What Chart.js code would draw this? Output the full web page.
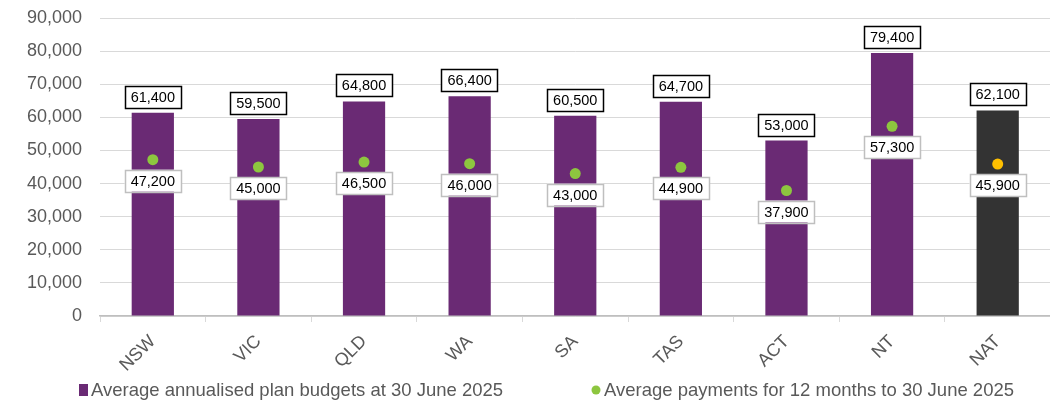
<!DOCTYPE html>
<html>
<head>
<meta charset="utf-8">
<script src="https://cdn.jsdelivr.net/npm/chart.js@4/dist/chart.umd.min.js"></script>
<style>
  html, body { margin: 0; padding: 0; background: #fff; overflow: hidden; }
  #wrap { width: 1056px; height: 400px; }
</style>
</head>
<body>
<div id="wrap"><canvas id="chart" width="1056" height="400"></canvas></div>
<script>
// data
const states = ['NSW', 'VIC', 'QLD', 'WA', 'SA', 'TAS', 'ACT', 'NT', 'NAT'];
const budgets = [61400, 59500, 64800, 66400, 60500, 64700, 53000, 79400, 62100];
const payments = [47200, 45000, 46500, 46000, 43000, 44900, 37900, 57300, 45900];
const yTicks = [0, 10000, 20000, 30000, 40000, 50000, 60000, 70000, 80000, 90000];

const budgetLabel = 'Average annualised plan budgets at 30 June 2025';
const paymentLabel = 'Average payments for 12 months to 30 June 2025';

const purple = '#6a2a74';
const dark = '#333333';
const green = '#8dc63f';
const amber = '#ffc000';
const fontFam = '"Liberation Sans", Arial, sans-serif';

const fmt = v => v.toLocaleString('en-US');

// value boxes on bars and points, plus the legend row
const labelsPlugin = {
  id: 'labels',
  afterDatasetsDraw(chart) {
    const ctx = chart.ctx;
    ctx.save();
    ctx.font = '14.5px ' + fontFam;
    ctx.textAlign = 'center';
    ctx.textBaseline = 'middle';
    const barMeta = chart.getDatasetMeta(0);
    const ptMeta = chart.getDatasetMeta(1);
    barMeta.data.forEach((bar, i) => {
      drawBox(ctx, bar.x, bar.y - 16, fmt(budgets[i]), '#000');
    });
    ptMeta.data.forEach((pt, i) => {
      drawBox(ctx, pt.x, pt.y + 21, fmt(payments[i]), '#bfbfbf');
    });

    // legend
    ctx.font = '18.5px ' + fontFam;
    ctx.textAlign = 'left';
    ctx.fillStyle = purple;
    ctx.fillRect(79, 384, 9, 12);
    ctx.fillStyle = '#595959';
    ctx.fillText(budgetLabel, 91, 391);
    ctx.fillStyle = green;
    ctx.beginPath();
    ctx.arc(596, 390, 4.5, 0, Math.PI * 2);
    ctx.fill();
    ctx.fillStyle = '#595959';
    ctx.fillText(paymentLabel, 604, 391);
    ctx.restore();
  }
};

function drawBox(ctx, cx, cy, text, border) {
  const w = ctx.measureText(text).width + 12;
  const h = 22;
  ctx.fillStyle = '#fff';
  ctx.fillRect(cx - w / 2, cy - h / 2, w, h);
  ctx.strokeStyle = border;
  ctx.lineWidth = 1.5;
  ctx.strokeRect(Math.round(cx - w / 2) + 0.5, Math.round(cy - h / 2) + 0.5, Math.round(w), h);
  ctx.fillStyle = '#000';
  ctx.fillText(text, cx, cy + 1);
}

new Chart(document.getElementById('chart'), {
  type: 'bar',
  data: {
    labels: states,
    datasets: [
      {
        label: budgetLabel,
        data: budgets,
        backgroundColor: states.map(s => s === 'NAT' ? dark : purple),
        barPercentage: 0.4,
        categoryPercentage: 1,
        order: 2
      },
      {
        type: 'line',
        label: paymentLabel,
        data: payments,
        showLine: false,
        pointRadius: 5.5,
        pointBorderWidth: 0,
        pointBackgroundColor: states.map(s => s === 'NAT' ? amber : green),
        order: 1
      }
    ]
  },
  options: {
    responsive: false,
    animation: false,
    layout: { padding: { top: 18, right: 0, left: 0, bottom: 0 } },
    plugins: {
      legend: { display: false },
      tooltip: { enabled: false }
    },
    scales: {
      y: {
        min: 0,
        max: 90000,
        afterBuildTicks: s => { s.ticks = yTicks.map(v => ({ value: v })); },
        afterFit: s => { s.width = 100; s.paddingTop = 0; s.paddingBottom = 0; },
        ticks: {
          callback: v => fmt(v),
          color: '#595959',
          font: { size: 18, family: fontFam },
          padding: 18
        },
        grid: { color: '#d9d9d9', drawTicks: false, lineWidth: 1 },
        border: { display: false }
      },
      x: {
        afterFit: s => { s.height = 84; },
        ticks: {
          color: '#595959',
          font: { size: 18, family: fontFam },
          maxRotation: 45,
          minRotation: 45,
          padding: 9
        },
        grid: {
          offset: true,
          drawOnChartArea: false,
          drawTicks: true,
          tickLength: 6,
          color: '#d9d9d9'
        },
        border: { display: true, color: '#bfbfbf', width: 1.5 }
      }
    }
  },
  plugins: [labelsPlugin]
});
</script>
</body>
</html>
